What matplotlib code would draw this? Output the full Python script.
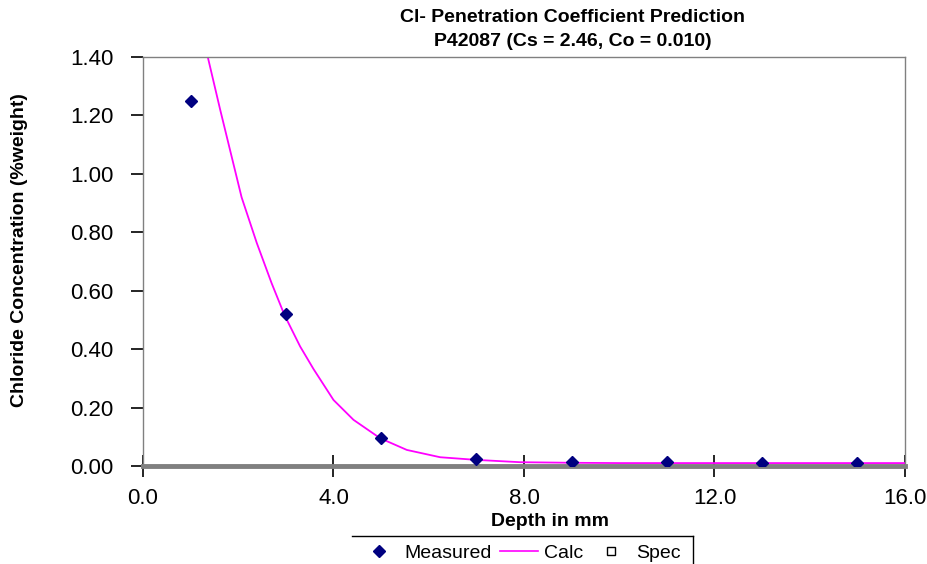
import matplotlib
matplotlib.use("Agg")
import matplotlib.pyplot as plt
from matplotlib.lines import Line2D

plt.rcParams['font.family'] = ['Liberation Sans', 'DejaVu Sans']

# measured chloride profile
depth_measured = [1, 3, 5, 7, 9, 11, 13, 15]
cl_measured = [1.25, 0.52, 0.095, 0.024, 0.012, 0.012, 0.010, 0.010]

# calculated curve
depth_calc = [1.36, 1.62, 1.83, 2.07, 2.39, 2.70, 2.97, 3.30, 3.58, 4.0, 4.42,
              4.98, 5.54, 6.24, 6.99, 7.92, 9.0, 10.0, 12.0, 14.0, 16.0]
cl_calc = [1.40, 1.22, 1.08, 0.92, 0.763, 0.626, 0.517, 0.409, 0.332, 0.226,
           0.158, 0.095, 0.055, 0.030, 0.021, 0.013, 0.011, 0.010, 0.010,
           0.010, 0.010]

# spec series has no points
depth_spec = []
cl_spec = []

x_ticks = [0.0, 4.0, 8.0, 12.0, 16.0]
y_ticks = [0.0, 0.2, 0.4, 0.6, 0.8, 1.0, 1.2, 1.4]

W, H = 928, 564
fig = plt.figure(figsize=(W / 100, H / 100), dpi=100)
ax = fig.add_axes([143 / W, 1 - 466 / H, (905 - 143) / W, (466 - 57) / H])

ax.plot(depth_calc, cl_calc, color='#ff00ff', lw=1.3, label='Calc', zorder=2)
ax.plot(depth_measured, cl_measured, 'D', color='#000080', ms=6,
        ls='none', label='Measured', zorder=3)
ax.plot(depth_spec, cl_spec, 's', mfc='white', mec='black', ms=6,
        ls='none', label='Spec')

ax.set_xlim(0, 16)
ax.set_ylim(0, 1.4)
ax.set_xticks(x_ticks)
ax.set_yticks(y_ticks)
ax.set_xticklabels([f"{v:.1f}" for v in x_ticks], fontsize=16)
ax.set_yticklabels([f"{v:.2f}" for v in y_ticks], fontsize=16)
ax.tick_params(axis='y', direction='out', length=9, width=1.2, color='black', pad=12)
ax.tick_params(axis='x', direction='inout', length=16, width=1.2, color='black', pad=8)

for s in ['left', 'top', 'right']:
    ax.spines[s].set_color('#808080')
    ax.spines[s].set_linewidth(1)
ax.spines['bottom'].set_color('#808080')
ax.spines['bottom'].set_linewidth(3.5)

fig.text(573 / W, 1 - 18 / H, "Cl- Penetration Coefficient Prediction",
         ha='center', va='center', fontsize=14, fontweight='bold')
fig.text(573 / W, 1 - 42 / H, "P42087 (Cs = 2.46, Co = 0.010)",
         ha='center', va='center', fontsize=14, fontweight='bold')
fig.text(20 / W, 1 - 250 / H, "Chloride Concentration (%weight)", rotation=90,
         ha='center', va='center', fontsize=14, fontweight='bold')
fig.text(550 / W, 1 - 522 / H, "Depth in mm",
         ha='center', va='center', fontsize=14, fontweight='bold')

handles = [
    Line2D([], [], marker='D', color='#000080', ls='none', ms=6),
    Line2D([], [], color='#ff00ff', lw=1.2),
    Line2D([], [], marker='s', mfc='white', mec='black', ls='none', ms=6),
]
fig.legend(handles, ['Measured', 'Calc', 'Spec'], loc='center',
           bbox_to_anchor=(520 / W, 1 - 553 / H), ncol=3, frameon=False,
           fontsize=14, handlelength=2.0, columnspacing=0.4, handletextpad=0.3)
fig.add_artist(Line2D([352 / W, 693 / W], [1 - 536 / H, 1 - 536 / H],
                      color='black', lw=1))
fig.add_artist(Line2D([693 / W, 693 / W], [1 - 536 / H, 0],
                      color='black', lw=1))

fig.savefig("out.png", dpi=100)
